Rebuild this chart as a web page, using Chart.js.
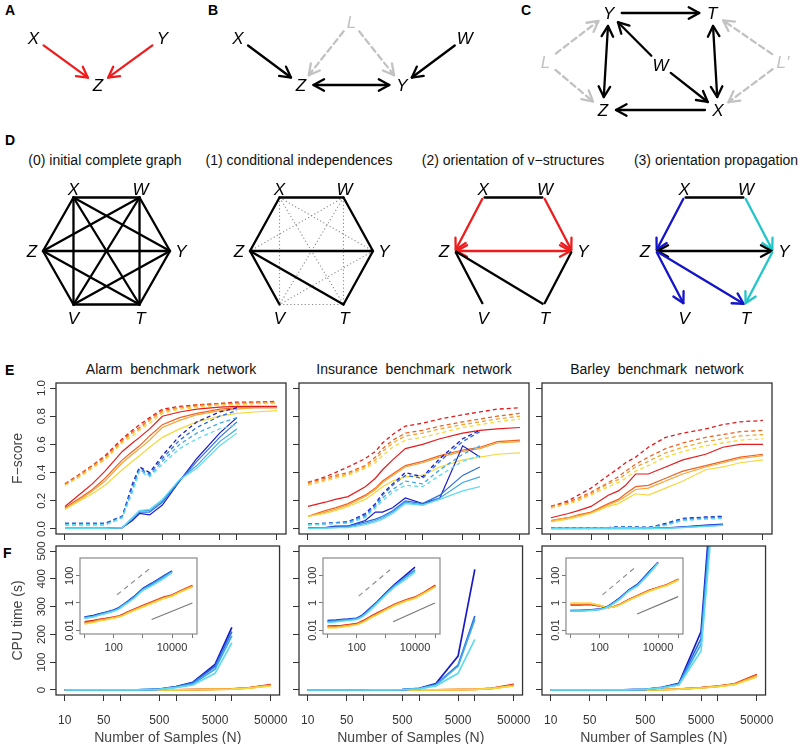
<!DOCTYPE html>
<html>
<head>
<meta charset="utf-8">
<title>Causal network reconstruction</title>
<script src="https://cdn.jsdelivr.net/npm/chart.js@4.4.1/dist/chart.umd.min.js"></script>
<style>
  body { margin:0; background:#fff; font-family:"Liberation Sans", Arial, sans-serif; }
  #page { position:relative; width:800px; height:744px; overflow:hidden; }
  canvas { position:absolute; }
  .tag { position:absolute; font-weight:bold; font-size:14px; line-height:14px; color:#000; }
  .sub { position:absolute; font-size:14px; line-height:14px; color:#111; text-align:center; white-space:pre; }
</style>
</head>
<body>
<div id="page">
  <div class="tag" style="left:5px;top:3px">A</div>
  <div class="tag" style="left:208px;top:3px">B</div>
  <div class="tag" style="left:521px;top:3px">C</div>
  <div class="tag" style="left:5px;top:133px">D</div>
  <div class="tag" style="left:5px;top:363px">E</div>
  <div class="tag" style="left:3px;top:546px">F</div>

  <div class="sub" style="left:-5px;width:220px;top:153px">(0) initial complete graph</div>
  <div class="sub" style="left:189px;width:220px;top:153px">(1) conditional independences</div>
  <div class="sub" style="left:403px;width:220px;top:153px">(2) orientation of v−structures</div>
  <div class="sub" style="left:606px;width:220px;top:153px">(3) orientation propagation</div>

  <div class="sub" id="t0" style="left:56px;width:230px;top:362px"></div>
  <div class="sub" id="t1" style="left:299px;width:230px;top:362px"></div>
  <div class="sub" id="t2" style="left:542px;width:230px;top:362px"></div>

  <canvas id="gA"></canvas><canvas id="gB"></canvas><canvas id="gC"></canvas>
  <canvas id="gD0"></canvas><canvas id="gD1"></canvas><canvas id="gD2"></canvas><canvas id="gD3"></canvas>
  <canvas id="e0"></canvas><canvas id="e1"></canvas><canvas id="e2"></canvas>
  <canvas id="f0"></canvas><canvas id="f1"></canvas><canvas id="f2"></canvas>
  <canvas id="i0"></canvas><canvas id="i1"></canvas><canvas id="i2"></canvas>
</div>
<script>
// ---- data: sample sizes and axis ticks ----
var sampleSizes = [10, 20, 30, 50, 100, 150, 200, 300, 500, 1000, 2000, 5000, 10000, 20000, 50000];
var xTicks = [10, 50, 100, 500, 1000, 5000, 10000, 50000];
var xTickLabels = ['10', '50', '', '500', '', '5000', '', '50000'];
var scoreTicks = [0, 0.2, 0.4, 0.6, 0.8, 1.0];
var scoreTickLabels = ['0.0', '0.2', '0.4', '0.6', '0.8', '1.0'];
var cpuTicks = [0, 100, 200, 300, 400, 500];
var cpuTickLabels = ['0', '100', '200', '300', '400', '500'];
var insetXTicks = [10, 100, 1000, 10000, 50000];
var insetXLabels = ['', '100', '', '10000', ''];
var insetYTicks = [0.01, 1, 100];
var insetYLabels = ['0.01', '1', '100'];
var networkTitles = ['Alarm  benchmark  network', 'Insurance  benchmark  network', 'Barley  benchmark  network'];
// 4 warm method variants, then 4 cool ones
var seriesColors = ['#e31b1d', '#ef6322', '#f4a532', '#f5d83c', '#1b1bc6', '#2b6fdf', '#3fa7ea', '#5edcee'];

// F-score, solid lines (rows follow seriesColors; cool rows stop at N=10000)
var alarmScoreSolid = [
  [0.16, 0.26, 0.32, 0.41, 0.55, 0.61, 0.65, 0.71, 0.80, 0.83, 0.85, 0.865, 0.87, 0.87, 0.87],
  [0.15, 0.23, 0.28, 0.36, 0.49, 0.55, 0.59, 0.66, 0.74, 0.79, 0.82, 0.85, 0.86, 0.86, 0.86],
  [0.14, 0.22, 0.27, 0.34, 0.47, 0.53, 0.57, 0.63, 0.72, 0.77, 0.81, 0.84, 0.85, 0.86, 0.86],
  [0.14, 0.21, 0.25, 0.31, 0.42, 0.48, 0.52, 0.58, 0.65, 0.71, 0.76, 0.80, 0.82, 0.83, 0.84],
  [0.005, 0.005, 0.005, 0.005, 0.01, 0.06, 0.11, 0.10, 0.17, 0.34, 0.50, 0.68, 0.79],
  [0.005, 0.005, 0.005, 0.005, 0.01, 0.07, 0.12, 0.12, 0.19, 0.34, 0.48, 0.65, 0.76],
  [0.005, 0.005, 0.005, 0.005, 0.01, 0.08, 0.13, 0.13, 0.20, 0.35, 0.45, 0.62, 0.71],
  [0.005, 0.005, 0.005, 0.005, 0.01, 0.08, 0.13, 0.14, 0.21, 0.35, 0.43, 0.59, 0.68]
];
var alarmScoreDashed = [
  [0.32, 0.40, 0.45, 0.52, 0.64, 0.70, 0.74, 0.79, 0.85, 0.87, 0.88, 0.89, 0.90, 0.90, 0.905],
  [0.32, 0.40, 0.45, 0.51, 0.63, 0.69, 0.72, 0.78, 0.84, 0.86, 0.88, 0.89, 0.89, 0.90, 0.90],
  [0.31, 0.39, 0.44, 0.50, 0.62, 0.68, 0.71, 0.77, 0.83, 0.86, 0.87, 0.88, 0.89, 0.89, 0.895],
  [0.31, 0.38, 0.43, 0.49, 0.61, 0.66, 0.70, 0.75, 0.82, 0.85, 0.86, 0.88, 0.88, 0.89, 0.89],
  [0.04, 0.04, 0.04, 0.04, 0.09, 0.32, 0.44, 0.40, 0.52, 0.66, 0.76, 0.83, 0.86],
  [0.04, 0.04, 0.04, 0.04, 0.09, 0.30, 0.43, 0.39, 0.50, 0.63, 0.72, 0.80, 0.84],
  [0.03, 0.03, 0.03, 0.03, 0.08, 0.28, 0.42, 0.38, 0.48, 0.60, 0.68, 0.75, 0.79],
  [0.03, 0.03, 0.03, 0.03, 0.08, 0.26, 0.41, 0.37, 0.46, 0.57, 0.64, 0.71, 0.74]
];
var insuranceScoreSolid = [
  [0.16, 0.19, 0.21, 0.23, 0.30, 0.36, 0.42, 0.49, 0.57, 0.60, 0.64, 0.68, 0.70, 0.71, 0.72],
  [0.09, 0.13, 0.15, 0.18, 0.24, 0.29, 0.34, 0.39, 0.45, 0.48, 0.52, 0.56, 0.58, 0.62, 0.63],
  [0.09, 0.12, 0.14, 0.17, 0.23, 0.28, 0.33, 0.38, 0.44, 0.47, 0.51, 0.55, 0.57, 0.61, 0.62],
  [0.09, 0.11, 0.13, 0.16, 0.21, 0.26, 0.30, 0.34, 0.37, 0.38, 0.44, 0.49, 0.51, 0.53, 0.54],
  [0.01, 0.01, 0.02, 0.02, 0.06, 0.12, 0.12, 0.15, 0.22, 0.18, 0.22, 0.59, 0.51],
  [0.01, 0.01, 0.015, 0.02, 0.05, 0.07, 0.09, 0.13, 0.20, 0.18, 0.24, 0.38, 0.44],
  [0.005, 0.01, 0.01, 0.015, 0.04, 0.06, 0.08, 0.12, 0.19, 0.17, 0.22, 0.33, 0.37],
  [0.005, 0.005, 0.01, 0.01, 0.03, 0.05, 0.07, 0.11, 0.18, 0.17, 0.21, 0.27, 0.30]
];
var insuranceScoreDashed = [
  [0.33, 0.37, 0.40, 0.44, 0.50, 0.55, 0.61, 0.67, 0.73, 0.75, 0.78, 0.81, 0.83, 0.85, 0.86],
  [0.33, 0.36, 0.38, 0.40, 0.45, 0.51, 0.57, 0.63, 0.68, 0.70, 0.73, 0.76, 0.78, 0.80, 0.82],
  [0.32, 0.35, 0.37, 0.39, 0.44, 0.49, 0.55, 0.61, 0.66, 0.68, 0.71, 0.74, 0.76, 0.78, 0.80],
  [0.31, 0.34, 0.36, 0.38, 0.43, 0.47, 0.52, 0.58, 0.63, 0.65, 0.68, 0.72, 0.74, 0.76, 0.78],
  [0.035, 0.04, 0.045, 0.05, 0.11, 0.18, 0.25, 0.32, 0.40, 0.37, 0.50, 0.64, 0.70],
  [0.035, 0.04, 0.045, 0.05, 0.10, 0.17, 0.24, 0.31, 0.38, 0.36, 0.48, 0.62, 0.69],
  [0.03, 0.035, 0.04, 0.045, 0.09, 0.16, 0.22, 0.28, 0.34, 0.32, 0.42, 0.53, 0.59],
  [0.03, 0.035, 0.04, 0.04, 0.08, 0.15, 0.20, 0.26, 0.31, 0.30, 0.38, 0.48, 0.52]
];
var barleyScoreSolid = [
  [0.08, 0.11, 0.13, 0.16, 0.24, 0.27, 0.31, 0.39, 0.39, 0.44, 0.49, 0.53, 0.58, 0.60, 0.60],
  [0.06, 0.08, 0.10, 0.12, 0.18, 0.21, 0.25, 0.30, 0.31, 0.36, 0.41, 0.45, 0.48, 0.51, 0.53],
  [0.06, 0.08, 0.095, 0.115, 0.17, 0.20, 0.23, 0.28, 0.29, 0.34, 0.39, 0.44, 0.47, 0.50, 0.52],
  [0.05, 0.07, 0.085, 0.11, 0.16, 0.18, 0.21, 0.25, 0.24, 0.29, 0.34, 0.42, 0.44, 0.47, 0.49],
  [0.005, 0.005, 0.005, 0.005, 0.005, 0.005, 0.005, 0.005, 0.005, 0.008, 0.015, 0.027, 0.035],
  [0.004, 0.004, 0.004, 0.004, 0.004, 0.004, 0.004, 0.004, 0.004, 0.007, 0.013, 0.024, 0.032],
  [0.003, 0.003, 0.003, 0.003, 0.003, 0.003, 0.003, 0.003, 0.003, 0.006, 0.011, 0.020, 0.028],
  [0.002, 0.002, 0.002, 0.002, 0.002, 0.002, 0.002, 0.002, 0.002, 0.005, 0.010, 0.018, 0.025]
];
var barleyScoreDashed = [
  [0.16, 0.20, 0.24, 0.29, 0.38, 0.43, 0.47, 0.51, 0.58, 0.65, 0.68, 0.71, 0.74, 0.76, 0.77],
  [0.16, 0.19, 0.22, 0.26, 0.33, 0.37, 0.41, 0.46, 0.51, 0.57, 0.61, 0.65, 0.67, 0.69, 0.70],
  [0.15, 0.18, 0.21, 0.25, 0.32, 0.35, 0.39, 0.44, 0.48, 0.54, 0.58, 0.62, 0.64, 0.66, 0.67],
  [0.15, 0.18, 0.20, 0.24, 0.30, 0.33, 0.36, 0.41, 0.45, 0.51, 0.55, 0.59, 0.61, 0.63, 0.64],
  [0.005, 0.005, 0.005, 0.005, 0.01, 0.015, 0.015, 0.015, 0.01, 0.04, 0.075, 0.085, 0.09],
  [0.005, 0.005, 0.005, 0.005, 0.01, 0.015, 0.015, 0.015, 0.01, 0.035, 0.07, 0.08, 0.085],
  [0.004, 0.004, 0.004, 0.004, 0.008, 0.012, 0.012, 0.012, 0.008, 0.03, 0.065, 0.075, 0.08],
  [0.003, 0.003, 0.003, 0.003, 0.006, 0.01, 0.01, 0.01, 0.006, 0.025, 0.06, 0.07, 0.075]
];

// CPU time in seconds
var alarmCpu = [
  [0.04, 0.05, 0.06, 0.07, 0.09, 0.11, 0.14, 0.22, 0.35, 0.65, 1.2, 2.6, 3.8, 8, 19],
  [0.035, 0.045, 0.055, 0.065, 0.085, 0.10, 0.13, 0.20, 0.32, 0.60, 1.1, 2.4, 3.6, 7.5, 18],
  [0.03, 0.04, 0.05, 0.06, 0.08, 0.095, 0.12, 0.19, 0.30, 0.55, 1.0, 2.2, 3.4, 7, 16],
  [0.028, 0.036, 0.045, 0.055, 0.075, 0.09, 0.11, 0.17, 0.27, 0.50, 0.9, 2.0, 3.1, 6.5, 15],
  [0.09, 0.12, 0.15, 0.20, 0.30, 0.45, 0.70, 1.3, 3.0, 12, 28, 92, 225],
  [0.085, 0.11, 0.14, 0.19, 0.28, 0.42, 0.65, 1.2, 2.8, 11, 26, 85, 210],
  [0.08, 0.10, 0.13, 0.17, 0.26, 0.38, 0.60, 1.1, 2.5, 10, 22, 75, 195],
  [0.07, 0.09, 0.12, 0.16, 0.24, 0.35, 0.55, 1.0, 2.2, 8.5, 18, 60, 170]
];
var insuranceCpu = [
  [0.02, 0.021, 0.022, 0.025, 0.03, 0.045, 0.06, 0.10, 0.18, 0.38, 0.8, 1.7, 2.7, 6, 20],
  [0.018, 0.019, 0.02, 0.023, 0.028, 0.04, 0.055, 0.09, 0.16, 0.35, 0.75, 1.6, 2.5, 5.6, 18],
  [0.016, 0.017, 0.018, 0.021, 0.026, 0.037, 0.05, 0.085, 0.15, 0.32, 0.7, 1.5, 2.3, 5.2, 16],
  [0.014, 0.015, 0.016, 0.019, 0.024, 0.034, 0.045, 0.075, 0.13, 0.29, 0.62, 1.35, 2.1, 4.8, 15],
  [0.05, 0.055, 0.06, 0.065, 0.075, 0.12, 0.20, 0.45, 1.2, 5.6, 23, 122, 434],
  [0.045, 0.05, 0.055, 0.06, 0.07, 0.11, 0.18, 0.40, 1.1, 5.0, 20, 89, 266],
  [0.04, 0.045, 0.05, 0.055, 0.065, 0.10, 0.16, 0.36, 1.0, 4.5, 18, 86, 254],
  [0.035, 0.04, 0.045, 0.05, 0.06, 0.09, 0.14, 0.32, 0.9, 4.0, 15, 60, 182]
];
var barleyCpu = [
  [0.7, 0.7, 0.72, 0.72, 0.6, 0.5, 0.45, 0.52, 0.8, 1.8, 3.5, 8.5, 14, 22, 56],
  [0.8, 0.8, 0.82, 0.82, 0.62, 0.5, 0.46, 0.52, 0.78, 1.7, 3.3, 8.0, 13, 21, 54],
  [0.9, 0.9, 0.9, 0.9, 0.65, 0.5, 0.46, 0.5, 0.75, 1.65, 3.2, 7.6, 12.5, 20, 51],
  [0.95, 0.95, 0.95, 0.95, 0.68, 0.5, 0.45, 0.49, 0.72, 1.55, 3.0, 7.2, 12, 19, 47],
  [0.27, 0.28, 0.29, 0.31, 0.35, 0.45, 0.60, 1.1, 2.5, 9.2, 24, 210, 1000],
  [0.26, 0.27, 0.28, 0.30, 0.34, 0.43, 0.57, 1.0, 2.3, 8.5, 22, 185, 950],
  [0.25, 0.26, 0.27, 0.29, 0.33, 0.41, 0.54, 0.95, 2.1, 8.0, 20, 165, 900],
  [0.24, 0.25, 0.26, 0.28, 0.32, 0.40, 0.52, 0.9, 2.0, 7.5, 18, 140, 850]
];
// guide lines drawn in the log-log insets: [N, seconds] end points
var insetGuideDashed = [[[130, 4], [1800, 360]], [[117, 3.2], [1500, 316]], [[124, 3.9], [1550, 370]]];
var insetGuideSolid = [[[2000, 0.06], [50000, 1.0]], [[1770, 0.04], [48000, 1.0]], [[1920, 0.15], [49000, 2.9]]];

// ---- graphs of panels A-D (abstract layout units) ----
var nodesA = { X: [0, 1], Y: [2, 1], Z: [1, 0] };
var edgesA = [['X', 'Z', '>', 'red'], ['Y', 'Z', '>', 'red']];
var nodesB = { X: [0, 1], Z: [1, 0], L: [1.8, 1.35], Y: [2.6, 0], W: [3.6, 1] };
var edgesB = [['X', 'Z', '>', 'k'], ['L', 'Z', '>', 'latent'], ['L', 'Y', '>', 'latent'], ['Z', 'Y', '<>', 'k'], ['W', 'Y', '>', 'k']];
var nodesC = { Z: [0, 0], X: [2, 0], Y: [0.1, 2], T: [1.9, 2], W: [1, 0.93], L: [-1, 1], "L'": [3.13, 1] };
var edgesC = [['Y', 'T', '>', 'k'], ['Y', 'Z', '<>', 'k'], ['T', 'X', '<>', 'k'], ['W', 'Y', '>', 'k'], ['W', 'X', '>', 'k'],
  ['X', 'Z', '>', 'k'], ['L', 'Y', '>', 'latent'], ['L', 'Z', '>', 'latent'], ["L'", 'T', '>', 'latent'], ["L'", 'X', '>', 'latent']];
var hexNodes = { X: [-0.52, 1], W: [0.52, 1], Z: [-1, 0], Y: [1, 0], V: [-0.52, -1], T: [0.52, -1] };
var edgesD0 = [['X', 'W', '-', 'k'], ['X', 'Z', '-', 'k'], ['X', 'Y', '-', 'k'], ['X', 'V', '-', 'k'], ['X', 'T', '-', 'k'],
  ['W', 'Z', '-', 'k'], ['W', 'Y', '-', 'k'], ['W', 'V', '-', 'k'], ['W', 'T', '-', 'k'], ['Z', 'Y', '-', 'k'],
  ['Z', 'V', '-', 'k'], ['Z', 'T', '-', 'k'], ['Y', 'V', '-', 'k'], ['Y', 'T', '-', 'k'], ['V', 'T', '-', 'k']];
var edgesD1 = [['X', 'Y', '-', 'dot'], ['X', 'V', '-', 'dot'], ['X', 'T', '-', 'dot'], ['W', 'Z', '-', 'dot'], ['W', 'V', '-', 'dot'],
  ['W', 'T', '-', 'dot'], ['Y', 'V', '-', 'dot'], ['V', 'T', '-', 'dot'],
  ['X', 'W', '-', 'k'], ['X', 'Z', '-', 'k'], ['W', 'Y', '-', 'k'], ['Z', 'Y', '-', 'k'], ['Z', 'V', '-', 'k'], ['Z', 'T', '-', 'k'], ['Y', 'T', '-', 'k']];
var edgesD2 = [['X', 'W', '-', 'k'], ['X', 'Z', '>', 'red'], ['W', 'Y', '>', 'red'], ['Z', 'Y', '<>', 'red'],
  ['Z', 'V', '-', 'k'], ['Z', 'T', '-', 'k'], ['Y', 'T', '-', 'k']];
var edgesD3 = [['X', 'W', '-', 'k'], ['X', 'Z', '>', 'blue'], ['W', 'Y', '>', 'cyan'], ['Z', 'Y', '<>', 'k'],
  ['Z', 'V', '>', 'blue'], ['Z', 'T', '>', 'blue'], ['Y', 'T', '>', 'cyan']];
var hexLabelOffset = { X: [0, -9], W: [1, -9], Z: [-11, 0], Y: [11, 0], V: [0, 13], T: [1, 13] };

var edgeStyle = {
  k: { color: '#000', dash: [] },
  red: { color: '#ee1d1d', dash: [] },
  latent: { color: '#c2c2c2', dash: [6, 4] },
  dot: { color: '#8c8c8c', dash: [1.2, 2.4], width: 1.1, cap: 'butt' },
  blue: { color: '#1414c9', dash: [] },
  cyan: { color: '#22c6c9', dash: [] }
};

Chart.defaults.font.family = '"Liberation Sans", Arial, sans-serif';

var graphs = {};
var deco = {};

function head(ctx, tx, ty, ux, uy) {
  var len = 12, c = Math.cos(0.5), s = Math.sin(0.5);
  ctx.beginPath();
  ctx.moveTo(tx - len * (ux * c - uy * s), ty - len * (uy * c + ux * s));
  ctx.lineTo(tx, ty);
  ctx.lineTo(tx - len * (ux * c + uy * s), ty - len * (uy * c - ux * s));
  ctx.stroke();
}

var graphPlugin = {
  id: 'graphPlugin',
  afterDatasetsDraw: function(chart) {
    var g = graphs[chart.canvas.id];
    var ctx = chart.ctx, sx = chart.scales.x, sy = chart.scales.y;
    var P = function(n) { return [sx.getPixelForValue(g.nodes[n][0]), sy.getPixelForValue(g.nodes[n][1])]; };
    ctx.save();
    g.edges.forEach(function(e) {
      var st = edgeStyle[e[3]];
      var a = P(e[0]), b = P(e[1]);
      var dx = b[0] - a[0], dy = b[1] - a[1], len = Math.hypot(dx, dy), ux = dx / len, uy = dy / len;
      var x1 = a[0] + ux * g.gap, y1 = a[1] + uy * g.gap, x2 = b[0] - ux * g.gap, y2 = b[1] - uy * g.gap;
      ctx.strokeStyle = st.color;
      ctx.lineWidth = st.width || 2.3;
      ctx.lineCap = st.cap || 'round';
      ctx.lineJoin = 'round';
      ctx.setLineDash(st.dash);
      ctx.beginPath(); ctx.moveTo(x1, y1); ctx.lineTo(x2, y2); ctx.stroke();
      ctx.setLineDash([]);
      ctx.lineCap = 'round';
      if (e[2] === '>' || e[2] === '<>') head(ctx, x2, y2, ux, uy);
      if (e[2] === '<>') head(ctx, x1, y1, -ux, -uy);
    });
    ctx.font = 'italic 17px "Liberation Sans", Arial, sans-serif';
    ctx.textAlign = 'center';
    ctx.textBaseline = 'alphabetic';
    Object.keys(g.nodes).forEach(function(n) {
      var p = P(n), off = (g.offsets && g.offsets[n]) || [0, 0];
      ctx.fillStyle = n.charAt(0) === 'L' ? '#c2c2c2' : '#000';
      ctx.fillText(n, p[0] + off[0], p[1] + off[1] + 6);
    });
    ctx.restore();
  }
};

function makeGraph(id, left, top, w, h, ox, oy, ux, uy, nodes, edges, gap, offsets) {
  var cv = document.getElementById(id);
  cv.width = w; cv.height = h;
  cv.style.left = left + 'px'; cv.style.top = top + 'px';
  graphs[id] = { nodes: nodes, edges: edges, gap: gap, offsets: offsets };
  var pts = Object.keys(nodes).map(function(n) { return { x: nodes[n][0], y: nodes[n][1] }; });
  return new Chart(cv, {
    type: 'scatter',
    data: { datasets: [{ data: pts, pointRadius: 0 }] },
    options: {
      responsive: false, animation: false, events: [],
      layout: { padding: 0 },
      plugins: { legend: { display: false }, tooltip: { enabled: false } },
      scales: {
        x: { type: 'linear', display: false, min: (left - ox) / ux, max: (left + w - ox) / ux },
        y: { type: 'linear', display: false, min: (oy - top - h) / uy, max: (oy - top) / uy }
      }
    },
    plugins: [graphPlugin]
  });
}

makeGraph('gA', 0, 0, 200, 110, 33.5, 85, 64.5, 47, nodesA, edgesA, 12.5);
makeGraph('gB', 205, 0, 290, 110, 238, 85, 63, 47, nodesB, edgesB, 12.5);
makeGraph('gC', 505, 0, 295, 125, 603, 110, 57.5, 48.5, nodesC, edgesC, 13);
makeGraph('gD0', 5, 170, 200, 160, 106.5, 251, 63.5, 53.5, hexNodes, edgesD0, 0, hexLabelOffset);
makeGraph('gD1', 210, 170, 200, 160, 311.5, 251, 61.5, 53.5, hexNodes, edgesD1, 0, hexLabelOffset);
makeGraph('gD2', 410, 170, 200, 160, 513.5, 251, 58.5, 53.5, hexNodes, edgesD2, 1.5, hexLabelOffset);
makeGraph('gD3', 610, 170, 190, 160, 714.5, 251, 58.5, 53.5, hexNodes, edgesD3, 1.5, hexLabelOffset);

// ---- E / F plots ----
var rFrame = {
  id: 'rFrame',
  beforeDatasetsDraw: function(chart) {
    var d = deco[chart.canvas.id], a = chart.chartArea;
    if (d.fill) { chart.ctx.fillStyle = '#fff'; chart.ctx.fillRect(a.left, a.top, a.right - a.left, a.bottom - a.top); }
  },
  afterDraw: function(chart) {
    var d = deco[chart.canvas.id], ctx = chart.ctx, a = chart.chartArea, ys = chart.scales.y;
    ctx.save();
    ctx.strokeStyle = d.frame; ctx.lineWidth = d.frameWidth;
    ctx.strokeRect(a.left, a.top, a.right - a.left, a.bottom - a.top);
    ctx.textAlign = 'center'; ctx.textBaseline = 'middle';
    if (d.yLabels) {
      ctx.font = d.yFont; ctx.fillStyle = '#333';
      d.yTicks.forEach(function(v, i) {
        ctx.save();
        ctx.translate(a.left - d.yOff, ys.getPixelForValue(v));
        ctx.rotate(-Math.PI / 2);
        ctx.fillText(d.yLabels[i], 0, 0);
        ctx.restore();
      });
    }
    if (d.yTitle) {
      ctx.font = '14px "Liberation Sans", Arial, sans-serif'; ctx.fillStyle = '#444';
      ctx.translate(a.left - 38, (a.top + a.bottom) / 2);
      ctx.rotate(-Math.PI / 2);
      ctx.fillText(d.yTitle, 0, 0);
    }
    ctx.restore();
  }
};

function logX(ticks, labels, tl, fontSize, pad, tickColor, title) {
  return {
    type: 'logarithmic', min: 6.97, max: 71900, bounds: 'data',
    afterBuildTicks: function(s) { s.ticks = ticks.map(function(v) { return { value: v }; }); },
    grid: { drawOnChartArea: false, drawTicks: true, tickLength: tl, tickColor: tickColor, tickWidth: 1 },
    border: { display: false },
    ticks: { autoSkip: false, maxRotation: 0, minRotation: 0, padding: pad, color: '#333', font: { size: fontSize },
      callback: function(v, i) { return labels[i]; } },
    title: title ? { display: true, text: title, color: '#444', font: { size: 14 }, padding: { top: 0, bottom: 1 } } : { display: false }
  };
}
function axisY(type, min, max, ticks, tl, tickColor) {
  return {
    type: type, min: min, max: max, bounds: 'data',
    afterBuildTicks: function(s) { s.ticks = ticks.map(function(v) { return { value: v }; }); },
    grid: { drawOnChartArea: false, drawTicks: true, tickLength: tl, tickColor: tickColor, tickWidth: 1 },
    border: { display: false },
    ticks: { display: false }
  };
}

var drawOrder = [7, 6, 5, 4, 3, 2, 1, 0];
function seriesSets(rows, dash, width) {
  return drawOrder.map(function(i) {
    return {
      data: rows[i].map(function(v, k) { return { x: sampleSizes[k], y: v }; }),
      borderColor: seriesColors[i], borderWidth: width, borderDash: dash,
      pointRadius: 0, tension: 0, fill: false
    };
  });
}
function guideSet(pts, color, dash) {
  return { data: pts.map(function(p) { return { x: p[0], y: p[1] }; }), borderColor: color, borderWidth: 1.1,
    borderDash: dash, pointRadius: 0, tension: 0, fill: false };
}

function makePlot(id, box, pad, xCfg, yCfg, datasets, d) {
  var cv = document.getElementById(id);
  cv.width = box.w + pad.l + pad.r; cv.height = box.h + pad.t + pad.b;
  cv.style.left = (box.x - pad.l) + 'px'; cv.style.top = (box.y - pad.t) + 'px';
  deco[id] = d;
  xCfg.afterFit = function(s) { s.height = pad.b; };
  yCfg.afterFit = function(s) { s.width = pad.l; };
  return new Chart(cv, {
    type: 'line',
    data: { datasets: datasets },
    options: {
      responsive: false, animation: false, events: [],
      layout: { padding: { top: pad.t, right: pad.r, left: 0, bottom: 0 } },
      plugins: { legend: { display: false }, tooltip: { enabled: false } },
      scales: { x: xCfg, y: yCfg }
    },
    plugins: [rFrame]
  });
}

var colLeft = [56, 299, 542];
var scoreSolid = [alarmScoreSolid, insuranceScoreSolid, barleyScoreSolid];
var scoreDashed = [alarmScoreDashed, insuranceScoreDashed, barleyScoreDashed];
var cpuRows = [alarmCpu, insuranceCpu, barleyCpu];

colLeft.forEach(function(L, c) {
  document.getElementById('t' + c).textContent = networkTitles[c];

  makePlot('e' + c, { x: L, y: 383, w: 230, h: 151 }, { l: 56, r: 14, t: 5, b: 12 },
    logX(xTicks, xTicks.map(function() { return ''; }), 6, 12, 0, '#333', null),
    axisY('linear', -0.0355, 1.0355, scoreTicks, 6, '#333'),
    seriesSets(scoreDashed[c], [4, 3], 1.3).concat(seriesSets(scoreSolid[c], [], 1.2)),
    { frame: '#333', frameWidth: 1.3, yTicks: scoreTicks, yLabels: c === 0 ? scoreTickLabels : null,
      yOff: 14, yFont: '11.5px "Liberation Sans", Arial, sans-serif', yTitle: c === 0 ? 'F−score' : null });

  makePlot('f' + c, { x: L, y: 546, w: 230, h: 149 }, { l: 56, r: 14, t: 5, b: 53 },
    logX(xTicks, xTickLabels, 6, 12, 12, '#333', 'Number of Samples (N)'),
    axisY('linear', -18, 518, cpuTicks, 6, '#333'),
    seriesSets(cpuRows[c], [], 1.7),
    { frame: '#333', frameWidth: 1.3, yTicks: cpuTicks, yLabels: c === 0 ? cpuTickLabels : null,
      yOff: 14, yFont: '11.5px "Liberation Sans", Arial, sans-serif', yTitle: c === 0 ? 'CPU time (s)' : null });

  makePlot('i' + c, { x: L + 24, y: 558, w: 117, h: 76 }, { l: 22, r: 4, t: 3, b: 20 },
    logX(insetXTicks, insetXLabels, 4, 11, 3, '#777', null),
    axisY('logarithmic', 0.0051, 2040, insetYTicks, 4, '#777'),
    [guideSet(insetGuideDashed[c], '#8a8a8a', [5, 4]), guideSet(insetGuideSolid[c], '#777', [])].concat(seriesSets(cpuRows[c], [], 1.5)),
    { frame: '#8a8a8a', frameWidth: 1.2, fill: true, yTicks: insetYTicks, yLabels: insetYLabels,
      yOff: 10, yFont: '11px "Liberation Sans", Arial, sans-serif', yTitle: null });
});
</script>
</body>
</html>
